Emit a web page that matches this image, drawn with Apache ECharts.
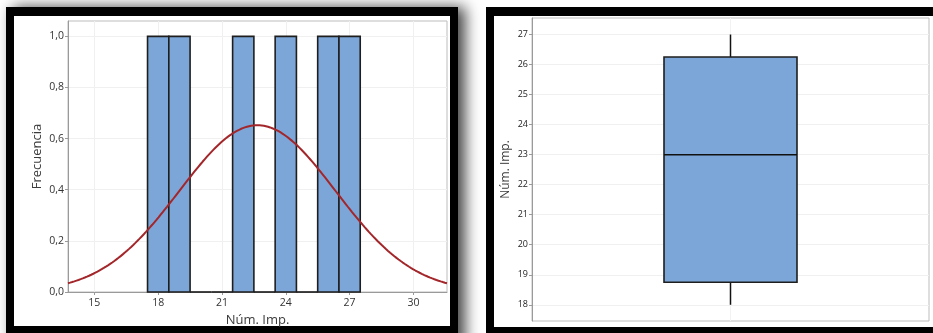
<!DOCTYPE html>
<html>
<head>
<meta charset="utf-8">
<script src="https://cdn.jsdelivr.net/npm/echarts@6/dist/echarts.min.js"></script>
<style>
  html, body { margin: 0; padding: 0; background: #fff; }
  #chart { width: 933px; height: 333px; }
</style>
</head>
<body>
<div id="chart"></div>
<script>
// Observations of "Núm. Imp."
const observations = [18, 19, 22, 24, 26, 27];

// Histogram bins (width 1, centred on integers) and their counts
const binCenters = [18, 19, 20, 21, 22, 23, 24, 25, 26, 27];
const binCounts  = [1, 1, 0, 0, 1, 0, 1, 0, 1, 1];
const binWidth = 1;

// Tick labels
const histXTicks = [15, 18, 21, 24, 27, 30];
const histYTicks = [0, 0.2, 0.4, 0.6, 0.8, 1.0];
const boxYTicks  = [18, 19, 20, 21, 22, 23, 24, 25, 26, 27];

// Box plot summary: min, Q1, median, Q3, max
const boxStats = [18, 18.75, 23, 26.25, 27];

// Fitted normal curve, scaled to counts (n * bin width * pdf)
const n = observations.length;
const mean = observations.reduce((a, b) => a + b, 0) / n;
const sd = Math.sqrt(observations.reduce((a, v) => a + (v - mean) * (v - mean), 0) / (n - 1));
const xMin = 13.76, xMax = 31.58;
const curve = [];
for (let i = 0; i <= 180; i++) {
  const x = xMin + (xMax - xMin) * i / 180;
  const z = (x - mean) / sd;
  curve.push([x, n * binWidth * Math.exp(-0.5 * z * z) / (sd * Math.sqrt(2 * Math.PI))]);
}

const font = 'Open Sans';
const comma = v => v.toFixed(1).replace('.', ',');

const chart = echarts.init(document.getElementById('chart'), null, { renderer: 'canvas' });
chart.setOption({
  animation: false,
  backgroundColor: '#fff',
  graphic: [
    // left panel frame with drop shadow
    { type: 'rect', z: -20, shape: { x: 6, y: 7, width: 452, height: 340 },
      style: { fill: '#000', shadowBlur: 14, shadowOffsetX: 7, shadowColor: 'rgba(0,0,0,0.75)' } },
    { type: 'rect', z: -19, shape: { x: 14, y: 16, width: 436, height: 310 }, style: { fill: '#fff' } },
    // right panel frame
    { type: 'rect', z: -20, shape: { x: 486, y: 7, width: 460, height: 340 }, style: { fill: '#000' } },
    { type: 'rect', z: -19, shape: { x: 494, y: 16, width: 450, height: 311 }, style: { fill: '#fff' } }
  ],
  grid: [
    { left: 68, top: 21, width: 379, height: 271, show: true, backgroundColor: '#fff',
      borderColor: '#bdbdbd', borderWidth: 1, z: 0 },
    { left: 532, top: 18, width: 397, height: 303, show: true, backgroundColor: '#fff',
      borderColor: '#bdbdbd', borderWidth: 1, z: 0 }
  ],
  xAxis: [
    { type: 'value', gridIndex: 0, min: xMin, max: xMax,
      name: 'Núm. Imp.', nameLocation: 'middle', nameGap: 21,
      nameTextStyle: { fontFamily: font, fontSize: 13, color: '#3c3c3c' },
      axisLine: { show: true, onZero: false, lineStyle: { color: '#9a9a9a' } },
      axisTick: { show: true, length: 3, customValues: histXTicks, lineStyle: { color: '#9a9a9a' } },
      axisLabel: { customValues: histXTicks, margin: 6, fontFamily: font, fontSize: 10.5, color: '#333' },
      splitLine: { show: true, lineStyle: { color: '#f0f0f0' } } },
    { type: 'value', gridIndex: 1, min: -1, max: 1,
      axisLine: { show: false, onZero: false }, axisTick: { show: false, customValues: [0] },
      axisLabel: { show: false, customValues: [0] },
      splitLine: { show: true, lineStyle: { color: '#f2f2f2' } } }
  ],
  yAxis: [
    { type: 'value', gridIndex: 0, min: 0, max: 1.06,
      name: 'Frecuencia', nameLocation: 'middle', nameGap: 24,
      nameTextStyle: { fontFamily: font, fontSize: 13, color: '#3c3c3c' },
      axisLine: { show: true, onZero: false, lineStyle: { color: '#9a9a9a' } },
      axisTick: { show: true, length: 3, customValues: histYTicks, lineStyle: { color: '#9a9a9a' } },
      axisLabel: { customValues: histYTicks, margin: 4, fontFamily: font, fontSize: 10.5, color: '#333',
        formatter: v => comma(v) },
      splitLine: { show: true, lineStyle: { color: '#f0f0f0' } } },
    { type: 'value', gridIndex: 1, min: 17.46, max: 27.55,
      name: 'Núm. Imp.', nameLocation: 'middle', nameGap: 20,
      nameTextStyle: { fontFamily: font, fontSize: 12, color: '#3c3c3c' },
      axisLine: { show: true, onZero: false, lineStyle: { color: '#9a9a9a' } },
      axisTick: { show: true, length: 3, customValues: boxYTicks, lineStyle: { color: '#9a9a9a' } },
      axisLabel: { customValues: boxYTicks, margin: 4, fontFamily: font, fontSize: 9, color: '#222' },
      splitLine: { show: true, lineStyle: { color: '#f0f0f0' } } }
  ],
  series: [
    { type: 'custom', xAxisIndex: 0, yAxisIndex: 0, z: 3,
      data: binCenters.map((c, i) => [c, binCounts[i]]),
      renderItem: (params, api) => {
        const c = api.value(0), h = api.value(1);
        const p0 = api.coord([c - binWidth / 2, h]);
        const p1 = api.coord([c + binWidth / 2, 0]);
        if (h === 0) {
          // empty bin: outline collapses onto the baseline
          return { type: 'line', shape: { x1: p0[0], y1: p1[1], x2: p1[0], y2: p1[1] },
            style: { stroke: '#1e1e1e', lineWidth: 1.6 } };
        }
        return { type: 'rect',
          shape: { x: p0[0], y: p0[1], width: p1[0] - p0[0], height: p1[1] - p0[1] },
          style: { fill: '#7da6d8', stroke: '#1e1e1e', lineWidth: 1.6 } };
      } },
    { type: 'line', xAxisIndex: 0, yAxisIndex: 0, z: 4, data: curve, showSymbol: false,
      lineStyle: { color: '#a3262a', width: 2 } },
    { type: 'custom', xAxisIndex: 1, yAxisIndex: 1, z: 3,
      data: [[0].concat(boxStats)],
      renderItem: (params, api) => {
        const x = api.value(0), hw = 0.335;
        const lo = api.value(1), q1 = api.value(2), med = api.value(3), q3 = api.value(4), hi = api.value(5);
        const tl = api.coord([x - hw, q3]);
        const br = api.coord([x + hw, q1]);
        const c = api.coord([x, med]);
        const pLo = api.coord([x, lo]);
        const pHi = api.coord([x, hi]);
        const ls = { stroke: '#111', lineWidth: 1.5 };
        return { type: 'group', children: [
          { type: 'line', shape: { x1: pHi[0], y1: pHi[1], x2: pHi[0], y2: tl[1] }, style: ls },
          { type: 'line', shape: { x1: pLo[0], y1: br[1], x2: pLo[0], y2: pLo[1] }, style: ls },
          { type: 'rect', shape: { x: tl[0], y: tl[1], width: br[0] - tl[0], height: br[1] - tl[1] },
            style: { fill: '#7da6d8', stroke: '#1e1e1e', lineWidth: 1.6 } },
          { type: 'line', shape: { x1: tl[0], y1: c[1], x2: br[0], y2: c[1] }, style: ls }
        ] };
      } }
  ]
});
</script>
</body>
</html>
